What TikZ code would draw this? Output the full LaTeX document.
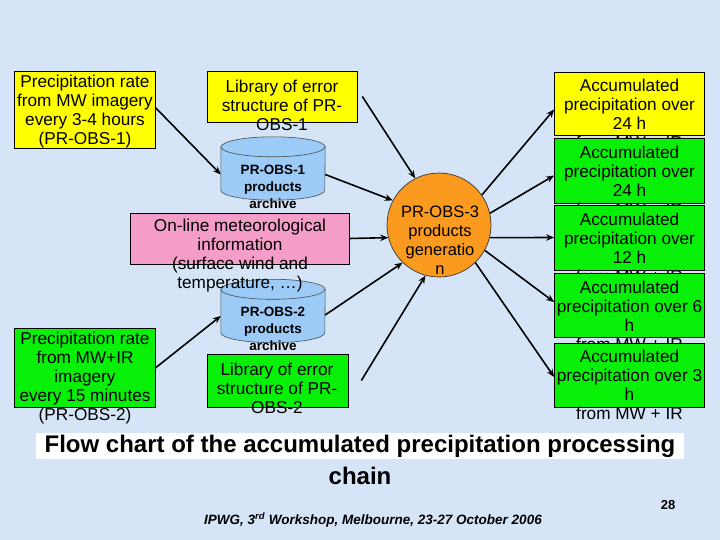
\documentclass[tikz,border=0pt]{standalone}
\usepackage{fontspec}
\setmainfont{Liberation Sans}
\usetikzlibrary{arrows.meta,calc}
\definecolor{bgcol}{HTML}{D5E5F7}
\definecolor{ylw}{HTML}{FFFF00}
\definecolor{grn}{HTML}{08F008}
\definecolor{pnk}{HTML}{F49DC8}
\definecolor{org}{HTML}{FA9A1E}
\definecolor{cylblue}{HTML}{9CCBF7}
\newcommand\drawcyl[1]{%
  \filldraw[cylline] ([yshift=-10pt]#1.north west) -- ([yshift=10pt]#1.south west)
    arc[start angle=180,end angle=360,x radius=52pt,y radius=10pt]
    -- ([yshift=-10pt]#1.north east)
    arc[start angle=0,end angle=180,x radius=52pt,y radius=10pt] -- cycle;
  \draw[cylline] ([yshift=-10pt]#1.north west)
    arc[start angle=180,end angle=360,x radius=52pt,y radius=10pt];}
\begin{document}
\begin{tikzpicture}[x=1pt,y=-1pt,
  box/.style={draw=black, line width=0.7pt, inner sep=0pt},
  tx/.style={align=center, inner sep=0pt, font=\fontsize{17.2}{19}\selectfont},
  ctx/.style={align=center, inner sep=0pt, font=\fontsize{16.5}{19}\selectfont},
  cyltx/.style={align=center, inner sep=0pt, font=\bfseries\fontsize{13.5}{17}\selectfont},
  cylcore/.style={inner sep=0pt, minimum width=104pt, minimum height=63pt},
  cylline/.style={draw=black!70, line width=0.6pt, fill=cylblue},
  rbox/.style={box, minimum width=150pt},
  arr/.style={-{Stealth[length=8pt,width=6.5pt]}, line width=1.6pt, black}]
\path[use as bounding box, fill=bgcol] (0,0) rectangle (720,540);

% left column
\node[box, fill=ylw, minimum width=141pt, minimum height=77pt] (A) at (84.5,109.5) {};
\node[tx] (At) at (85,111.5) {Precipitation rate\\from MW imagery\\every 3-4 hours\\(PR-OBS-1)};
\node[box, fill=grn, minimum width=141pt, minimum height=79pt] (C) at (84.5,368) {};
\node[tx] (Ct) at (85,378) {Precipitation rate\\from MW+IR\\imagery\\every 15 minutes\\(PR-OBS-2)};

% middle column
\node[box, fill=ylw, minimum width=150pt, minimum height=51pt] (B) at (282,96.5) {};
\node[tx] (Bt) at (282,105) {Library of error\\structure of PR-\\OBS-1};
\node[cylcore] (c1) at (273,168.5) {};
\drawcyl{c1}
\node[cyltx] (c1t) at (273,187) {PR-OBS-1\\products\\archive};
\node[cylcore] (c2) at (273,311) {};
\drawcyl{c2}
\node[cyltx] (c2t) at (273,329) {PR-OBS-2\\products\\archive};
\node[box, fill=pnk, minimum width=219pt, minimum height=51pt] (P) at (239.5,238.5) {};
\node[tx] (Pt) at (240,256) {On-line meteorological\\information\\(surface wind and\\temperature, \dots)};
\node[box, fill=grn, minimum width=141pt, minimum height=53pt] (D) at (277.5,380.5) {};
\node[tx] (Dt) at (277,388) {Library of error\\structure of PR-\\OBS-2};

% circle
\node[circle, draw=black!80, line width=0.7pt, fill=org, minimum size=104pt, inner sep=0pt] (G) at (439,225) {};
\node[ctx] (Gt) at (440,240) {PR-OBS-3\\products\\generatio\\n};

% right column
\node[rbox, fill=ylw, minimum height=63pt] (R1) at (629.5,103.5) {};
\node[tx] (R1t) at (629.5,114) {Accumulated\\precipitation over\\24 h\\from MW + IR};
\node[rbox, fill=grn, minimum height=65pt] (R2) at (629.5,170.5) {};
\node[tx] (R2t) at (629.5,181) {Accumulated\\precipitation over\\24 h\\from MW + IR};
\node[rbox, fill=grn, minimum height=65pt] (R3) at (629.5,237.5) {};
\node[tx] (R3t) at (629.5,248) {Accumulated\\precipitation over\\12 h\\from MW + IR};
\node[rbox, fill=grn, minimum height=64pt] (R4) at (629.5,305) {};
\node[tx] (R4t) at (629.5,316) {Accumulated\\precipitation over 6\\h\\from MW + IR};
\node[rbox, fill=grn, minimum height=64pt] (R5) at (629.5,375) {};
\node[tx] (R5t) at (629.5,385) {Accumulated\\precipitation over 3\\h\\from MW + IR};

% arrows
\draw[arr] ([yshift=2pt]A.east) -- ([yshift=-6pt]c1.west);
\draw[arr] (C.east) -- ([yshift=-5pt]c2.west);
\draw[arr] ([xshift=5pt]B.east) -- (G.117);
\draw[arr] ([yshift=-6pt]c1.east) -- (G.152);
\draw[arr] (P.east) -- (G.194);
\draw[arr] ([yshift=-4pt]c2.east) -- (G.226);
\draw[arr] ([xshift=13pt]D.east) -- (G.255);
\draw[arr] (G.35) -- ([yshift=-6pt]R1.west);
\draw[arr] (G.13) -- ([yshift=-5pt]R2.west);
\draw[arr] (G.346) -- (R3.west);
\draw[arr] (G.331) -- ([yshift=3pt]R4.west);
\draw[arr] (G.314) -- ([yshift=-2pt]R5.west);

% title and footer
\node[fill=white, inner sep=0pt, minimum width=648pt, minimum height=26pt,
      font=\bfseries\fontsize{24}{26}\selectfont] (T1) at (360,446) {Flow chart of the accumulated precipitation processing};
\node[inner sep=0pt, font=\bfseries\fontsize{24}{26}\selectfont] (T2) at (360,476) {chain};
\node[inner sep=0pt, font=\bfseries\fontsize{13}{15}\selectfont] (pg) at (668,505) {28};
\node[inner sep=0pt, font=\bfseries\itshape\fontsize{13.5}{15}\selectfont] (foot) at (373,520) {IPWG, 3\textsuperscript{rd} Workshop, Melbourne, 23-27 October 2006};
\end{tikzpicture}
\end{document}
